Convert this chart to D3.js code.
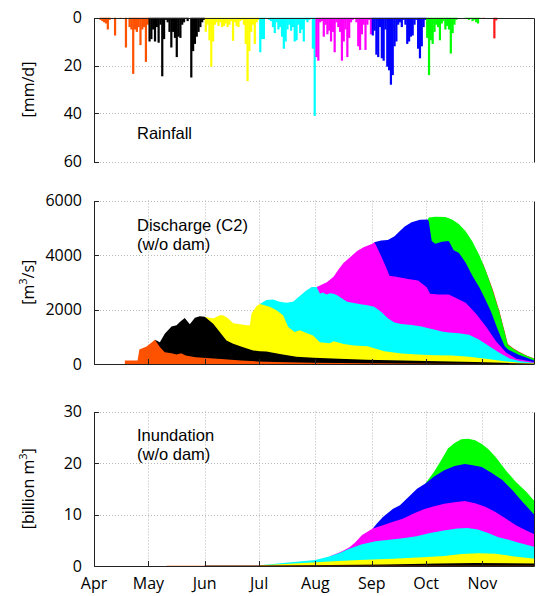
<!DOCTYPE html>
<html>
<head>
<meta charset="utf-8">
<script src="https://d3js.org/d3.v7.min.js"></script>
<style>
  body { margin: 0; background: #fff; }
  text { font-family: "Open Sans", sans-serif; fill: #000; }
  text.note { font-family: "Liberation Sans", sans-serif; }
</style>
</head>
<body>
<script>
var width = 536, height = 596;

var monthNames = ["Apr", "May", "Jun", "Jul", "Aug", "Sep", "Oct", "Nov"];
var monthColors = ["#ff5200", "#000000", "#ffff00", "#00ffff", "#ff00ff", "#0000ff", "#00ff00", "#ff1a1a"];

// daily rainfall [mm/d], one array per month
var rainApr = [0,0,0,1,1.5,2,2.5,5,1,0,0,7.5,0,0,0.5,0,0,12.5,0,4,5,23.5,5,6,4,11.5,5,4,18.5,3];
var rainMay = [10,9,5,10,4,10.5,3,24.5,9,1,2,6,12.5,6,8.5,16.5,8,8.5,3,2,0.5,1.5,0,25,14,11,8,6,4,2,1];
var rainJun = [6,3,9.5,20.5,10,3,2,3.5,2,4,3.5,2.5,4,3,1.5,9.7,2,3.5,4,1.5,1,3,11,26.5,14,6,3,11,2,1];
var rainJul = [14.5,9,9,0.5,0,1,1.5,4,6.5,2,5,4,8,13,10,5,3,5.5,4,10,9.5,3,6.5,5,10,1,2,1,0.5,13,41];
var rainAug = [16.5,18,2,1.5,8,3,7,5.5,10,6,14.5,2,4,6,18,10,5,16.5,8.5,2,1,0.5,2,12,13.5,7,3,13.5,3,1,7];
var rainSep = [7.5,5.5,15.5,16.5,4,17,18,5,20.5,22,28,24,12,10,3,2,4,1,3,11,10,8,7.5,3,1,13,17,12,4,1];
var rainOct = [8.5,24,9.5,11,6,3,4,9.5,2.5,1.5,5,3.5,5,15,6.5,3,1,0,0,0,0,0.3,0.5,1,0.5,1.5,1,2,2.5,0.5,0];
var rainNov = [0.6,0,0,0,0,0,8.7,1.2,0,0,0,0,0,0,0,0,0,0,0,0,0,0,0,0,0,0,0,0,0,0];
var rainByMonth = [rainApr, rainMay, rainJun, rainJul, rainAug, rainSep, rainOct, rainNov];

// discharge at C2 [m3/s], cumulative top of each month's contribution
// points are [days since 1 Apr, value]
var dischApr = [[17,125],[24,125],[25,530],[29,640],[33.6,890],[36.3,620],[39,435],[42.7,395],[45.5,345],[48,395],[50.5,310],[56,250],[62,222],[72,175],[81,130],[90,95],[100,70],[120,45],[150,25],[190,12],[243,2]];
var dischMay = [[33.6,890],[36.3,800],[39,1110],[42.7,1380],[45.5,1420],[47.3,1545],[50,1690],[52.8,1457],[55.6,1700],[58.3,1750],[61,1730],[65.7,1480],[69.3,1170],[73,865],[76.7,740],[82.2,617],[87.7,494],[91.4,470],[95,457],[102.4,370],[111.5,270],[121,225],[135,190],[150,160],[170,130],[190,100],[210,70],[225,45],[243,10]];
var dischJun = [[61,1730],[65.7,1667],[69.3,1790],[71.2,1790],[74,1667],[76.7,1500],[80.4,1457],[84,1420],[85.9,1420],[86.8,1850],[89.6,2125],[91.4,2200],[96.9,2100],[100.5,1975],[104.2,1790],[107,1360],[110.6,1170],[113.4,1235],[117,1136],[120.7,1050],[124.4,800],[129.9,760],[132,831],[137.6,735],[143,675],[150.7,650],[160,470],[169.3,385],[178.6,350],[188,325],[197.3,313],[206.7,265],[216,193],[225,108],[234.6,48],[243,24]];
var dischJul = [[91.4,2200],[95,2346],[98.7,2370],[102.4,2285],[106,2250],[109.7,2285],[113.4,2500],[117,2700],[120,2830],[122.7,2830],[124.5,2580],[126,2620],[128.2,2555],[130,2600],[132,2580],[134,2520],[136.7,2400],[139.5,2280],[143.2,2240],[146.9,2195],[150.7,2157],[154.4,2100],[158.2,1915],[161.9,1675],[165.6,1520],[169.3,1470],[175,1434],[180.5,1375],[184.3,1315],[188,1253],[191.7,1193],[195.5,1157],[201,1133],[206.7,1073],[212.3,892],[217.8,650],[223.4,410],[229,205],[234.6,108],[243,40]];
var dischAug = [[122.7,2830],[124.5,2880],[128.3,3000],[132,3205],[134.8,3480],[137.6,3720],[141.3,3930],[145,4145],[148.8,4290],[153.5,4410],[154.4,4470],[155.2,4385],[158.2,3965],[161,3540],[162.8,3240],[166.5,3205],[173.1,3120],[178.6,3060],[183.3,2820],[185.2,2580],[189.9,2555],[195.5,2555],[199.2,2435],[204.8,2250],[210.4,1850],[216,1375],[221.6,830],[227.2,410],[232.8,193],[243,60]];
var dischSep = [[154.4,4470],[158.2,4530],[161.9,4555],[165.6,4690],[168.4,4870],[171.2,5050],[175,5205],[179.6,5290],[183.9,5300],[184.5,5230],[186.1,4510],[188,4410],[191.7,4485],[195.5,4510],[198.2,4170],[201,4085],[204.8,3720],[208.5,3240],[212.3,2820],[215,2460],[218.8,1915],[222.5,1253],[226.3,650],[228,540],[234,340],[243,120]];
var dischOct = [[183.9,5300],[184.5,5375],[188,5400],[193.6,5390],[197.3,5300],[201,5135],[204.8,4870],[208.5,4500],[212.3,4000],[216,3400],[219.7,2700],[223.4,1900],[226.5,1100],[228,700],[231,560],[234,440],[238.3,300],[243,180]];
var dischNov = [[214,3750],[219.7,2740],[223.4,1940],[226.5,1140],[228,730],[231,580],[234,455],[238.3,315],[243,195]];
var dischByMonth = [dischApr, dischMay, dischJun, dischJul, dischAug, dischSep, dischOct, dischNov];

// inundation volume [billion m3], cumulative top of each month's contribution
var inunApr = [[40,0.03],[100,0.06],[243,0.05]];
var inunMay = [[61,0.08],[91,0.12],[130,0.2],[160,0.3],[190,0.5],[210,0.6],[243,0.5]];
var inunJun = [[91,0.15],[108,0.45],[127,0.84],[146,1.17],[164.8,1.43],[183.5,1.75],[193,1.95],[202.4,2.35],[211.8,2.5],[221.2,2.4],[230.6,1.9],[243,1.4]];
var inunJul = [[91.4,0.15],[100,0.45],[110,0.8],[122,1.15],[130,1.9],[136,2.6],[140.2,3.3],[147.7,4.2],[155.2,4.8],[162.7,5.1],[170.2,5.4],[177.7,5.8],[185.2,6.4],[192.7,6.9],[200.2,7.3],[205.8,7.4],[211.5,7.1],[217.2,6.4],[222.8,5.6],[228.5,5.1],[234.1,4.5],[243,3.7]];
var inunAug = [[130,1.9],[136.5,2.8],[141,3.7],[144,4.6],[147.7,6.0],[150,6.5],[153.6,7.3],[159.2,7.9],[164.8,8.6],[170.5,9.2],[176.1,10.2],[181.8,11],[187.4,11.6],[193,12.1],[198.7,12.4],[204.3,12.6],[210,12.2],[215.6,11.5],[221.2,10.5],[226.9,9.2],[232.5,7.9],[238.2,6.9],[243,6.1]];
var inunSep = [[153.6,7.3],[156,8.3],[159.2,9.5],[164.8,11.1],[168.6,11.8],[173.3,13.4],[178,15],[182.6,16],[187.4,17.4],[193,18.6],[198.7,19.4],[204.3,19.8],[208,19.6],[213.7,19.2],[219.4,18],[225,16.7],[230.6,14.7],[236.3,12.4],[243,9.8]];
var inunOct = [[182.6,16],[187.4,18.3],[191.2,20.5],[195,22.8],[198.7,23.9],[202.4,24.6],[206.2,24.7],[210,24.4],[213.7,23.7],[217.5,22.6],[221.2,21.2],[226.9,18.6],[232.5,16.3],[238.2,14.4],[243,12.5]];
var inunByMonth = [inunApr, inunMay, inunJun, inunJul, inunAug, inunSep, inunOct];

var rainTicks = [0, 20, 40, 60],
    dischTicks = [0, 2000, 4000, 6000],
    inunTicks = [0, 10, 20, 30];

var start = Date.UTC(2013, 3, 1),
    end = Date.UTC(2013, 10, 30);
function dayDate(d) { return new Date(start + d * 864e5); }

var left = 94, right = 535;
var x = d3.scaleUtc().domain([new Date(start), new Date(end)]).range([left, right]);
var monthStarts = d3.utcMonth.range(new Date(start), new Date(end));

var svg = d3.select("body").append("svg")
    .attr("width", width)
    .attr("height", height);

function panel(id, top, bottom, domain, ticks, invert) {
    var y = d3.scaleLinear().domain(domain).range(invert ? [top, bottom] : [bottom, top]);
    var g = svg.append("g");
    svg.append("clipPath").attr("id", "clip" + id)
      .append("rect").attr("x", left).attr("y", top).attr("width", right - left).attr("height", bottom - top);
    var grid = g.append("g").attr("stroke", "#b8b8b8").attr("stroke-dasharray", "1,2").attr("stroke-width", 1);
    grid.selectAll("line.h").data(ticks).enter().append("line")
        .attr("x1", left).attr("x2", right)
        .attr("y1", function(d) { return Math.round(y(d)) + 0.5; })
        .attr("y2", function(d) { return Math.round(y(d)) + 0.5; });
    if (!invert) {
        grid.selectAll("line.v").data(monthStarts.slice(1)).enter().append("line")
            .attr("x1", function(d) { return Math.round(x(d)) + 0.5; })
            .attr("x2", function(d) { return Math.round(x(d)) + 0.5; })
            .attr("y1", top).attr("y2", bottom);
    }
    var plot = g.append("g").attr("clip-path", "url(#clip" + id + ")");
    var labels = g.append("g").attr("font-size", 16).attr("text-anchor", "end");
    labels.selectAll("text").data(ticks).enter().append("text")
        .attr("x", 82).attr("y", function(d) { return y(d); })
        .attr("dy", "0.36em")
        .text(function(d) { return d; });
    return {y: y, g: g, plot: plot, top: top, bottom: bottom};
}

function frame(p, sides) {
    var f = p.g.append("g").attr("stroke", "#222").attr("stroke-width", 1).attr("fill", "none");
    var t = Math.round(p.top) + 0.5, b = Math.round(p.bottom) + 0.5, l = left + 0.5, r = right - 0.5;
    if (sides.indexOf("l") >= 0) f.append("line").attr("x1", l).attr("x2", l).attr("y1", t).attr("y2", b);
    if (sides.indexOf("r") >= 0) f.append("line").attr("x1", r).attr("x2", r).attr("y1", t).attr("y2", b);
    if (sides.indexOf("t") >= 0) f.append("line").attr("x1", l).attr("x2", r).attr("y1", t).attr("y2", t);
    if (sides.indexOf("b") >= 0) f.append("line").attr("x1", l).attr("x2", r).attr("y1", b).attr("y2", b);
}

function yTicks(p, ticks) {
    p.g.append("g").attr("stroke", "#222").selectAll("line").data(ticks).enter().append("line")
        .attr("x1", left).attr("x2", left + 5)
        .attr("y1", function(d) { return Math.round(p.y(d)) + 0.5; })
        .attr("y2", function(d) { return Math.round(p.y(d)) + 0.5; });
}

function xTicks(p) {
    p.g.append("g").attr("stroke", "#222").selectAll("line").data(monthStarts.slice(1)).enter().append("line")
        .attr("x1", function(d) { return Math.round(x(d)) + 0.5; })
        .attr("x2", function(d) { return Math.round(x(d)) + 0.5; })
        .attr("y1", p.bottom).attr("y2", p.bottom - 5);
}

function yTitle(p, parts) {
    var t = p.g.append("text")
        .attr("transform", "translate(34," + ((p.top + p.bottom) / 2) + ") rotate(-90)")
        .attr("text-anchor", "middle")
        .attr("font-size", 16);
    parts.forEach(function(s) {
        if (s.sup) {
            t.append("tspan").attr("font-size", 11).attr("dy", -7).text(s.text);
        } else {
            t.append("tspan").attr("dy", s.after ? 7 : 0).text(s.text);
        }
    });
}

// panel note, one text per line
function note(p, lines, x0, y0) {
    p.g.append("g").selectAll("text").data(lines).enter().append("text")
        .attr("class", "note")
        .attr("font-size", 16.5)
        .attr("x", x0)
        .attr("y", function(d, i) { return y0 + i * 19; })
        .text(function(d) { return d; });
}

// ---- rainfall ----
var rain = panel("rain", 17.5, 161.5, [0, 60], rainTicks, true);
var rainDays = [];
var offset = 0;
rainByMonth.forEach(function(arr, m) {
    arr.forEach(function(v, i) {
        rainDays.push({day: offset + i, value: v, month: m});
    });
    offset += arr.length;
});
rain.plot.selectAll("rect").data(rainDays.filter(function(d) { return d.value > 0; }))
  .enter().append("rect")
    .attr("x", function(d) { return x(dayDate(d.day)); })
    .attr("width", function(d) { return x(dayDate(d.day + 1)) - x(dayDate(d.day)) + 0.4; })
    .attr("y", rain.y(0))
    .attr("height", function(d) { return rain.y(d.value) - rain.y(0); })
    .attr("fill", function(d) { return monthColors[d.month]; });
frame(rain, "lrt");
yTicks(rain, rainTicks);
yTitle(rain, [{text: "[mm/d]"}]);
note(rain, ["Rainfall"], 137, 139);

// ---- stacked areas, drawn from the last month down ----
function stackAreas(p, series) {
    var area = d3.area()
        .x(function(d) { return x(dayDate(d[0])); })
        .y0(p.y(0))
        .y1(function(d) { return p.y(d[1]); });
    for (var m = series.length - 1; m >= 0; m--) {
        p.plot.append("path").datum(series[m])
            .attr("d", area)
            .attr("fill", monthColors[m]);
    }
}

var disch = panel("disch", 200.5, 364, [0, 6000], dischTicks, false);
stackAreas(disch, dischByMonth);
frame(disch, "lrb");
yTicks(disch, dischTicks);
xTicks(disch);
yTitle(disch, [{text: "[m"}, {text: "3", sup: true}, {text: "/s]", after: true}]);
note(disch, ["Discharge (C2)", "(w/o dam)"], 137, 231);

var inun = panel("inun", 411.5, 566, [0, 30], inunTicks, false);
stackAreas(inun, inunByMonth);
frame(inun, "lrb");
yTicks(inun, inunTicks);
xTicks(inun);
yTitle(inun, [{text: "[billion m"}, {text: "3", sup: true}, {text: "]", after: true}]);
note(inun, ["Inundation", "(w/o dam)"], 137, 441);

// month labels
svg.append("g").attr("font-size", 16).attr("text-anchor", "middle")
  .selectAll("text").data(monthStarts).enter().append("text")
    .attr("x", function(d) { return x(d); })
    .attr("y", 589)
    .text(function(d, i) { return monthNames[i]; });
</script>
</body>
</html>
